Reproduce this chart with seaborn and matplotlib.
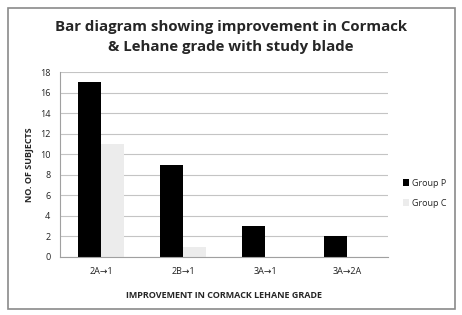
import pandas as pd
import seaborn as sns
import matplotlib.pyplot as plt
from matplotlib.patches import Rectangle

# data
grades = ['2A\u21921', '2B\u21921', '3A\u21921', '3A\u21922A']
group_p = [17, 9, 3, 2]
group_c = [11, 1, 0, 0]

df = pd.DataFrame({
    'Grade': grades * 2,
    'Subjects': group_p + group_c,
    'Group': ['Group P'] * 4 + ['Group C'] * 4
})

sns.set_style('white')
plt.rcParams['font.family'] = ['Open Sans', 'DejaVu Sans']

fig = plt.figure(figsize=(4.62, 3.15), dpi=100)
ax = fig.add_axes([60 / 462, 58 / 315, 328 / 462, 185 / 315])

sns.barplot(
    data=df,
    x='Grade',
    y='Subjects',
    hue='Group',
    palette=['black', '#ececec'],
    width=0.56,
    edgecolor='none',
    ax=ax
)

ax.set_ylim(0, 18)
ax.set_yticks(range(0, 19, 2))
ax.grid(axis='y', color='#c4c4c4', linewidth=0.8)
ax.set_axisbelow(True)
for s in ['top', 'right']:
    ax.spines[s].set_visible(False)
ax.spines['left'].set_color('#a0a0a0')
ax.spines['bottom'].set_color('#a0a0a0')
ax.tick_params(axis='both', labelsize=6.5, colors='#222222', length=0, pad=7)
ax.tick_params(axis='y', length=3, color='#a0a0a0', pad=4)

ax.set_xlabel('IMPROVEMENT IN CORMACK LEHANE GRADE', fontsize=6.5,
              fontweight='bold', labelpad=11)
ax.set_ylabel('NO. OF SUBJECTS', fontsize=6.5, fontweight='bold', labelpad=4)

ax.legend(loc='center left', bbox_to_anchor=(1.02, 0.345), frameon=False,
          fontsize=6.5, handlelength=0.7, handleheight=0.7,
          handletextpad=0.3, labelspacing=1.2)

fig.text(0.5, 0.936, 'Bar diagram showing improvement in Cormack\n& Lehane grade with study blade',
         ha='center', va='top', fontsize=10.8, fontweight='bold',
         linespacing=1.5)

fig.patches.append(Rectangle((8 / 462, 6 / 315), 447 / 462, 301 / 315,
                             transform=fig.transFigure, fill=False,
                             edgecolor='#8a8a8a', linewidth=1.2))

plt.savefig('out.png', dpi=100)
